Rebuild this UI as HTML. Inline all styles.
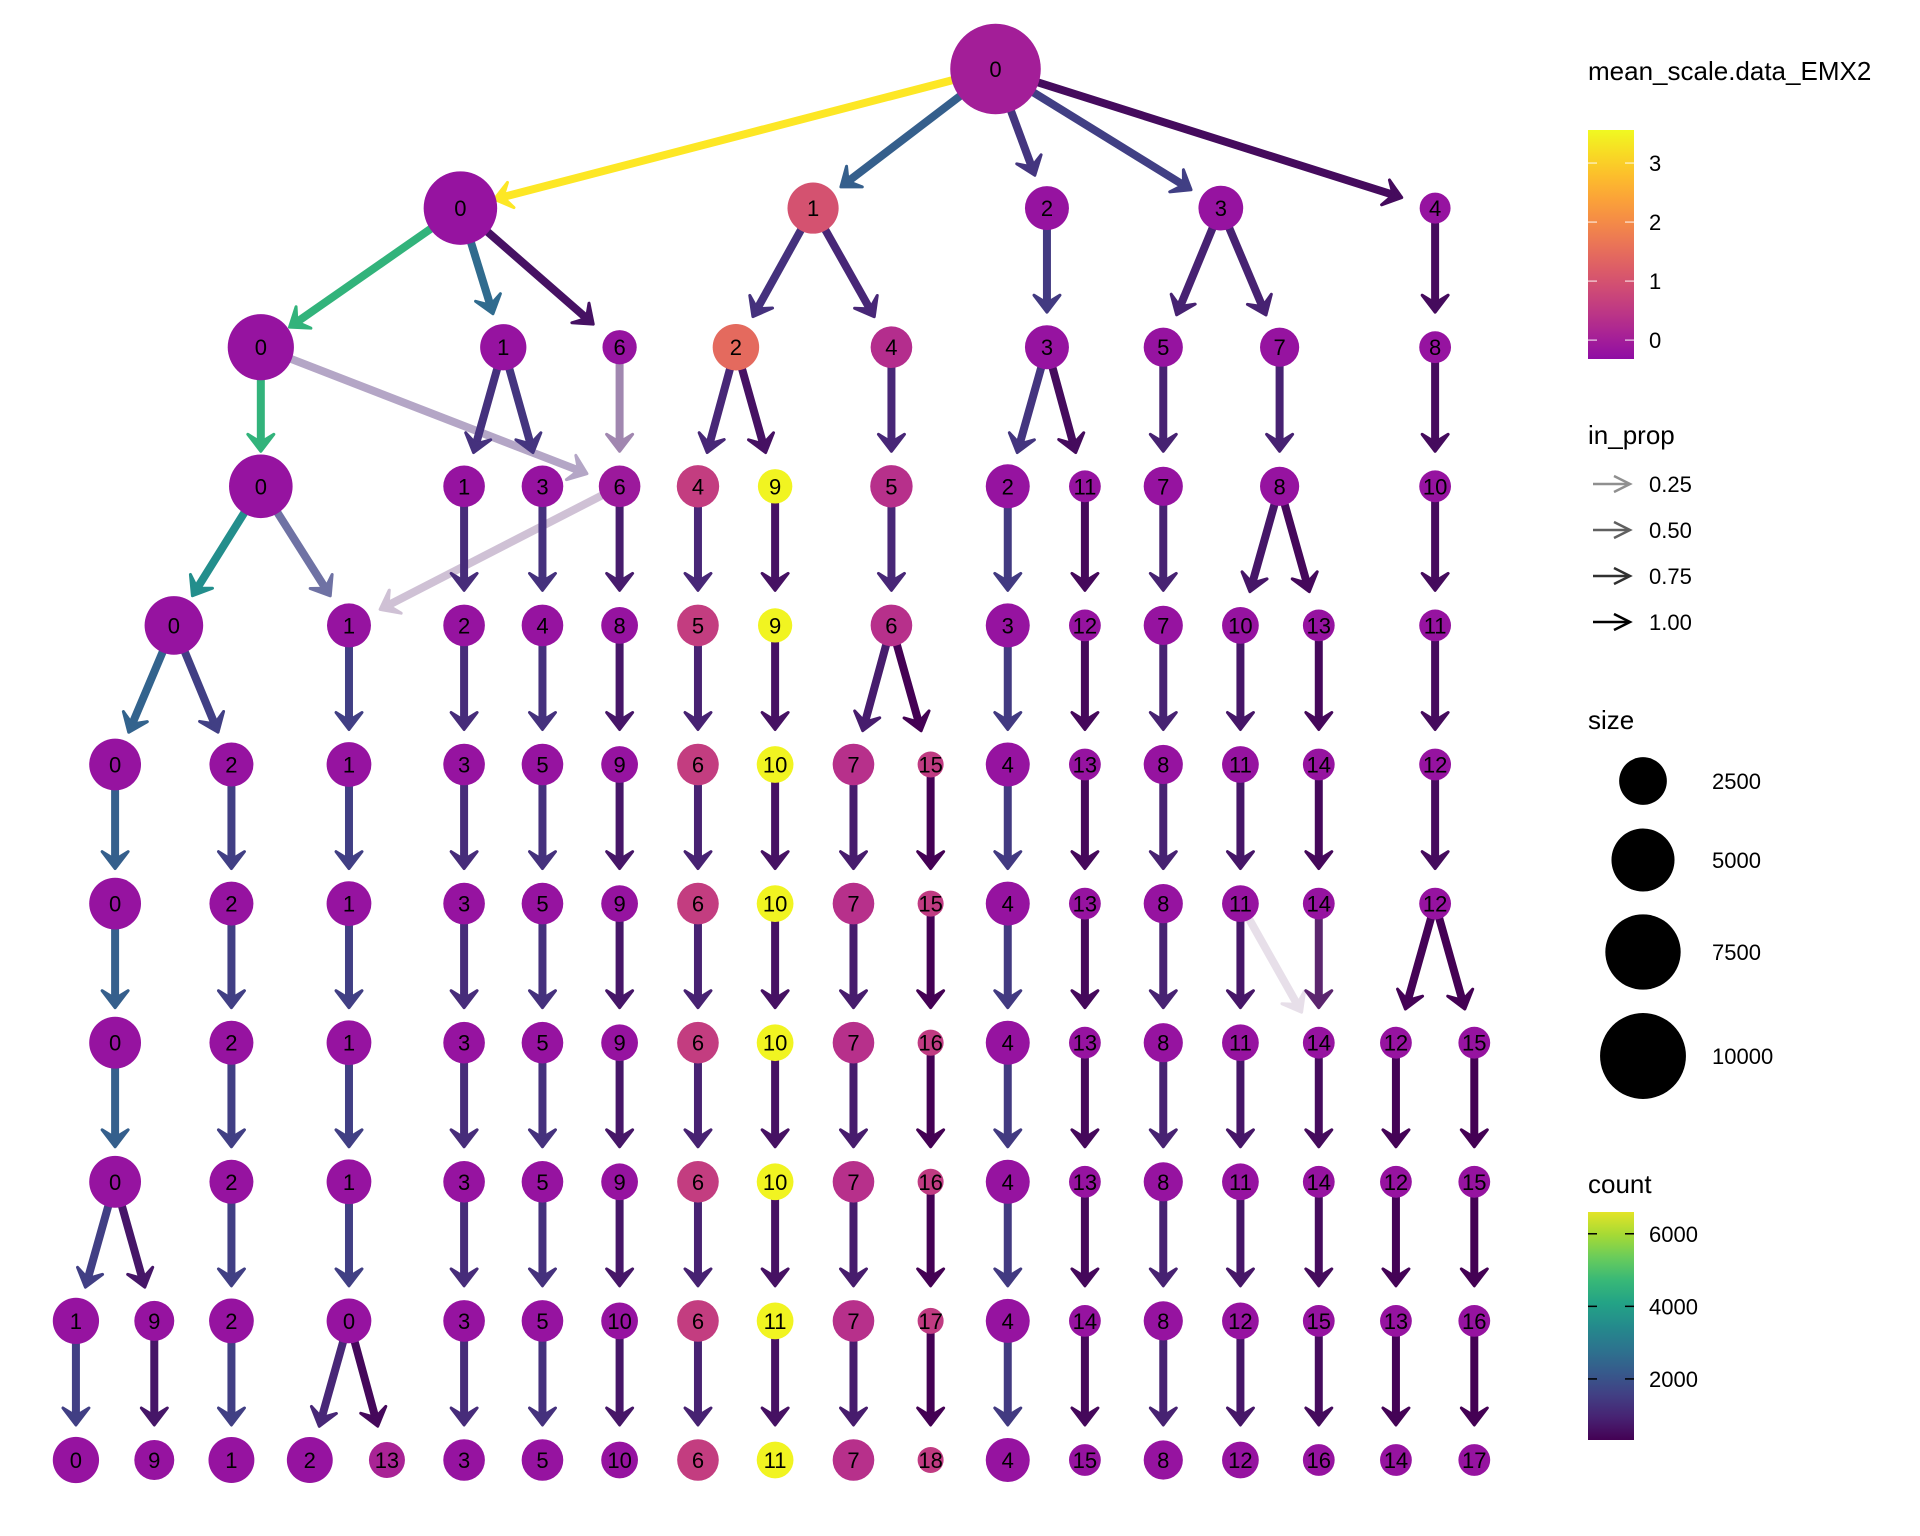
<!DOCTYPE html>
<html><head><meta charset="utf-8"><style>
html,body{margin:0;padding:0;background:#fff;}
svg{display:block;font-family:"Liberation Sans",Arial,sans-serif;}
</style></head><body>
<svg id="chart" width="1920" height="1536" viewBox="0 0 1920 1536" xmlns="http://www.w3.org/2000/svg">
<g id="edges"></g>
<g id="nodes"></g>
<g id="legend"></g>
</svg>
<script>
// ---- data (layout x in layout units, per resolution level) ----
const levelLabels = [
 [0],
 [0,1,2,3,4],
 [0,1,6,2,4,3,5,7,8],
 [0,1,3,6,4,9,5,2,11,7,8,10],
 [0,1,2,4,8,5,9,6,3,12,7,10,13,11],
 [0,2,1,3,5,9,6,10,7,15,4,13,8,11,14,12],
 [0,2,1,3,5,9,6,10,7,15,4,13,8,11,14,12],
 [0,2,1,3,5,9,6,10,7,16,4,13,8,11,14,12,15],
 [0,2,1,3,5,9,6,10,7,16,4,13,8,11,14,12,15],
 [1,9,2,0,3,5,10,6,11,7,17,4,14,8,12,15,13,16],
 [0,9,1,2,13,3,5,10,6,11,7,18,4,15,8,12,16,14,17]
];
const levelX = [
 [813],
 [376,664,855,997,1172],
 [213,411,506,601,728,855,950,1045,1172],
 [213,379,443,506,570,633,728,823,886,950,1045,1172],
 [142,285,379,443,506,570,633,728,823,886,950,1013,1077,1172],
 [94,189,285,379,443,506,570,633,697,760,823,886,950,1013,1077,1172],
 [94,189,285,379,443,506,570,633,697,760,823,886,950,1013,1077,1172],
 [94,189,285,379,443,506,570,633,697,760,823,886,950,1013,1077,1140,1204],
 [94,189,285,379,443,506,570,633,697,760,823,886,950,1013,1077,1140,1204],
 [62,126,189,285,379,443,506,570,633,697,760,823,886,950,1013,1077,1140,1204],
 [62,126,189,253,316,379,443,506,570,633,697,760,823,886,950,1013,1077,1140,1204]
];
const levelSize = [
 [11200],
 [7100,3000,2000,2100,560],
 [5600,2300,880,2330,1700,2000,1410,1410,640],
 [5100,1700,1700,1700,1800,900,1800,2000,640,1410,1410,640],
 [4200,2000,1700,1700,1140,1700,880,1700,2000,640,1410,1140,640,640],
 [3100,2000,2100,1700,1700,1140,1700,1140,1700,150,2000,640,1410,1140,640,640],
 [3100,2000,2100,1700,1700,1140,1700,1140,1700,150,2000,640,1410,1140,640,640],
 [3100,2000,2100,1700,1700,1140,1700,1140,1700,150,2000,640,1410,1140,640,640,640],
 [3100,2000,2100,1700,1700,1140,1700,1140,1700,150,2000,640,1410,1140,640,640,640],
 [2300,1500,2100,2100,1700,1700,1140,1700,1140,1700,150,2000,640,1410,1140,640,640,640],
 [2300,1500,2250,2250,1060,1700,1700,1140,1700,1140,1700,150,2000,640,1410,1140,640,640,640]
];
const levelEmx = [
 [0.0],
 [-0.2,1.0,-0.2,-0.2,-0.2],
 [-0.2,-0.2,-0.2,1.45,0.3,-0.2,-0.2,-0.2,-0.2],
 [-0.2,-0.2,-0.2,-0.1,0.6,3.5,0.35,-0.2,-0.2,-0.2,-0.2,-0.2],
 [-0.2,-0.2,-0.2,-0.2,-0.2,0.6,3.5,0.35,-0.2,-0.2,-0.2,-0.2,-0.2,-0.2],
 [-0.2,-0.2,-0.2,-0.2,-0.2,-0.2,0.6,3.5,0.35,0.55,-0.2,-0.2,-0.2,-0.2,-0.2,-0.2],
 [-0.2,-0.2,-0.2,-0.2,-0.2,-0.2,0.6,3.5,0.35,0.55,-0.2,-0.2,-0.2,-0.2,-0.2,-0.2],
 [-0.2,-0.2,-0.2,-0.2,-0.2,-0.2,0.6,3.5,0.35,0.55,-0.2,-0.2,-0.2,-0.2,-0.2,-0.2,-0.2],
 [-0.2,-0.2,-0.2,-0.2,-0.2,-0.2,0.6,3.5,0.35,0.55,-0.2,-0.2,-0.2,-0.2,-0.2,-0.2,-0.2],
 [-0.2,-0.2,-0.2,-0.2,-0.2,-0.2,-0.2,0.6,3.5,0.35,0.55,-0.2,-0.2,-0.2,-0.2,-0.2,-0.2,-0.2],
 [-0.2,-0.2,-0.2,-0.2,0.1,-0.2,-0.2,-0.2,0.6,3.5,0.35,0.55,-0.2,-0.2,-0.2,-0.2,-0.2,-0.2,-0.2]
];
// edges: "level:from>to"
const edgeLinks = [
 "0:0>0","0:0>1","0:0>2","0:0>3","0:0>4",
 "1:0>0","1:0>1","1:0>6","1:1>2","1:1>4","1:2>3","1:3>5","1:3>7","1:4>8",
 "2:0>0","2:0>6","2:1>1","2:1>3","2:6>6","2:2>4","2:2>9","2:4>5","2:3>2","2:3>11","2:5>7","2:7>8","2:8>10",
 "3:0>0","3:0>1","3:6>1","3:1>2","3:3>4","3:6>8","3:4>5","3:9>9","3:5>6","3:2>3","3:11>12","3:7>7","3:8>10","3:8>13","3:10>11",
 "4:0>0","4:0>2","4:1>1","4:2>3","4:4>5","4:8>9","4:5>6","4:9>10","4:6>7","4:6>15","4:3>4","4:12>13","4:7>8","4:10>11","4:13>14","4:11>12",
 "5:0>0","5:2>2","5:1>1","5:3>3","5:5>5","5:9>9","5:6>6","5:10>10","5:7>7","5:15>15","5:4>4","5:13>13","5:8>8","5:11>11","5:14>14","5:12>12",
 "6:0>0","6:2>2","6:1>1","6:3>3","6:5>5","6:9>9","6:6>6","6:10>10","6:7>7","6:15>16","6:4>4","6:13>13","6:8>8","6:11>11","6:11>14","6:14>14","6:12>12","6:12>15",
 "7:0>0","7:2>2","7:1>1","7:3>3","7:5>5","7:9>9","7:6>6","7:10>10","7:7>7","7:16>16","7:4>4","7:13>13","7:8>8","7:11>11","7:14>14","7:12>12","7:15>15",
 "8:0>1","8:0>9","8:2>2","8:1>0","8:3>3","8:5>5","8:9>10","8:6>6","8:10>11","8:7>7","8:16>17","8:4>4","8:13>14","8:8>8","8:11>12","8:14>15","8:12>13","8:15>16",
 "9:1>0","9:9>9","9:2>1","9:0>2","9:0>13","9:3>3","9:5>5","9:10>10","9:6>6","9:11>11","9:7>7","9:17>18","9:4>4","9:14>15","9:8>8","9:12>12","9:15>16","9:13>14","9:16>17"
];
const edgeCounts = [
 6600,2200,1300,1500,500,
 4400,2500,600,1200,1000,1400,900,900,500,
 4400,900,1200,1300,600,1000,600,1000,1300,500,900,900,500,
 3400,1600,500,1100,1200,800,1000,600,1000,1400,450,900,700,450,500,
 2300,1500,1500,1100,1200,700,900,600,800,300,1400,450,900,700,450,500,
 2200,1500,1500,1100,1200,700,900,600,800,300,1400,450,900,700,450,500,
 2200,1500,1500,1100,1200,700,900,600,800,300,1400,450,900,700,100,450,350,300,
 2200,1500,1500,1100,1200,700,900,600,800,300,1400,450,900,700,500,350,300,
 1500,700,1500,1500,1100,1200,700,900,600,800,300,1400,450,900,700,500,350,300,
 1500,700,1500,1000,450,1100,1200,700,900,600,800,300,1400,450,900,700,500,350,300
];
const edgeProps = [
 1,1,1,1,1,
 1,1,1,1,1,1,1,1,1,
 1,0.4,1,1,0.5,1,1,1,1,1,1,1,1,
 1,0.75,0.25,1,1,1,1,1,1,1,1,1,1,1,1,
 1,1,1,1,1,1,1,1,1,1,1,1,1,1,1,1,
 1,1,1,1,1,1,1,1,1,1,1,1,1,1,1,1,
 1,1,1,1,1,1,1,1,1,1,1,1,1,1,0.12,0.88,1,1,
 1,1,1,1,1,1,1,1,1,1,1,1,1,1,1,1,1,
 1,1,1,1,1,1,1,1,1,1,1,1,1,1,1,1,1,1,
 1,1,1,1,1,1,1,1,1,1,1,1,1,1,1,1,1,1,1
];
const emxTicks = [0,1,2,3];
const countTicks = [2000,4000,6000];
const sizeTicks = [2500,5000,7500,10000];
const propTicks = [0.25,0.5,0.75,1.0];

// ---- scales ----
const NS = "http://www.w3.org/2000/svg";
const xScale = u => u * 1.2245;
const yScale = lvl => 69 + lvl * 139.1;
const rScale = s => Math.sqrt(144 + 0.17 * s);
const EMX_MIN = -0.32, EMX_MAX = 3.56, CNT_MIN = 317, CNT_MAX = 6600;
function hex(c){return [parseInt(c.substr(1,2),16),parseInt(c.substr(3,2),16),parseInt(c.substr(5,2),16)];}
function interp(stops,t){t=Math.max(0,Math.min(1,t));const n=stops.length-1;const i=Math.min(n-1,Math.floor(t*n));const f=t*n-i;const a=hex(stops[i]),b=hex(stops[i+1]);return "rgb("+a.map((v,k)=>Math.round(v+(b[k]-v)*f)).join(",")+")";}
const plasma=["#0d0887","#41049d","#6a00a8","#8f0da4","#b12a90","#cc4778","#e16462","#f2844b","#fca636","#fcce25","#f0f921"];
const viridis=["#440154","#482878","#3e4989","#31688e","#26828e","#1f9e89","#35b779","#6ece58","#b5de2b","#fde725"];
const emxColor = v => interp(plasma, 0.3 + 0.7 * (v - EMX_MIN) / (EMX_MAX - EMX_MIN));
const countColor = c => interp(viridis, (c - CNT_MIN) / (CNT_MAX - CNT_MIN));
const emxY = v => 359 - (v - EMX_MIN) / (EMX_MAX - EMX_MIN) * 229;
const countY = c => 1440 - (c - CNT_MIN) / (CNT_MAX - CNT_MIN) * 228;

function mk(tag, attrs, parent){const e=document.createElementNS(NS,tag);for(const k in attrs)e.setAttribute(k,attrs[k]);parent.appendChild(e);return e;}

// node lookup
const nodePos = {};
levelLabels.forEach((labs,l)=>labs.forEach((lab,i)=>{nodePos[l+":"+lab]={x:xScale(levelX[l][i]),y:yScale(l),r:rScale(levelSize[l][i])};}));

// ---- edges ----
const gE = document.getElementById("edges");
edgeLinks.forEach((s,i)=>{
  const [lv,rest]=s.split(":");const [a,b]=rest.split(">");const l=+lv;
  const p=nodePos[l+":"+a], q=nodePos[(l+1)+":"+b];
  const dx=q.x-p.x, dy=q.y-p.y, L=Math.hypot(dx,dy), ux=dx/L, uy=dy/L;
  const tx=q.x-ux*35, ty=q.y-uy*35;
  const col=countColor(edgeCounts[i]);
  const g=mk("g",{opacity:edgeProps[i]},gE);
  
  
  mk("line",{x1:p.x,y1:p.y,x2:tx-ux*4,y2:ty-uy*4,stroke:col,"stroke-width":8},g);
  const bx=tx-ux*17, by=ty-uy*17, px=-uy, py=ux;
  mk("polygon",{points:[(bx+px*13)+","+(by+py*13),tx+","+ty,(bx-px*13)+","+(by-py*13),(tx-ux*9)+","+(ty-uy*9)].join(" "),fill:col,stroke:col,"stroke-width":3,"stroke-linejoin":"round"},g);
});

// ---- nodes ----
const gN = document.getElementById("nodes");
levelLabels.forEach((labs,l)=>labs.forEach((lab,i)=>{
  const p=nodePos[l+":"+lab];
  const g=mk("g",{},gN);
  
  
  mk("circle",{cx:p.x,cy:p.y,r:p.r,fill:emxColor(levelEmx[l][i])},g);
  const t=mk("text",{x:p.x,y:p.y+8,"text-anchor":"middle","font-size":22,fill:"#000"},g);
  t.textContent=lab;
}));

// ---- legends ----
const gL=document.getElementById("legend");
function title(txt,y,name){const t=mk("text",{x:1588,y:y,"font-size":26,fill:"#000"},gL);t.textContent=txt;}
// EMX2 colourbar
title("mean_scale.data_EMX2",80,"emx2-legend-title");
const defs=mk("defs",{},gL);
const g1=mk("linearGradient",{id:"gEmx",x1:0,y1:1,x2:0,y2:0},defs);
for(let k=0;k<=10;k++){mk("stop",{offset:k/10,"stop-color":emxColor(EMX_MIN+(EMX_MAX-EMX_MIN)*k/10)},g1);}
const bar1=mk("rect",{x:1588,y:130,width:46,height:229,fill:"url(#gEmx)"},gL);


emxTicks.forEach(v=>{const y=emxY(v);
  mk("line",{x1:1588,x2:1597,y1:y,y2:y,stroke:"#fff","stroke-opacity":0.8,"stroke-width":1.2},gL);
  mk("line",{x1:1625,x2:1634,y1:y,y2:y,stroke:"#fff","stroke-opacity":0.8,"stroke-width":1.2},gL);
  const t=mk("text",{x:1649,y:y+8,"font-size":22},gL);t.textContent=v;
  
  });
// in_prop
title("in_prop",444,"in-prop-legend-title");
propTicks.forEach((v,i)=>{const y=484+i*46;const c=Math.round(255*(1-v)*0.75);const col="rgb("+c+","+c+","+c+")";
  const g=mk("g",{},gL);
  
  
  mk("line",{x1:1593,y1:y,x2:1630,y2:y,stroke:col,"stroke-width":2.5},g);
  mk("polyline",{points:"1614,"+(y-8)+" 1630,"+y+" 1614,"+(y+8),fill:"none",stroke:col,"stroke-width":2.5},g);
  const t=mk("text",{x:1649,y:y+8,"font-size":22},g);t.textContent=v.toFixed(2);});
// size
title("size",729,"size-legend-title");
const sizeY=[781,860,952,1056];
sizeTicks.forEach((v,i)=>{const g=mk("g",{},gL);
  
  
  mk("circle",{cx:1643,cy:sizeY[i],r:rScale(v),fill:"#000"},g);
  const t=mk("text",{x:1712,y:sizeY[i]+8,"font-size":22},g);t.textContent=v;});
// count
title("count",1193,"count-legend-title");
const g2=mk("linearGradient",{id:"gCnt",x1:0,y1:1,x2:0,y2:0},defs);
for(let k=0;k<=10;k++){mk("stop",{offset:k/10,"stop-color":countColor(CNT_MIN+(CNT_MAX-CNT_MIN)*k/10*0.96)},g2);}
const bar2=mk("rect",{x:1588,y:1212,width:46,height:228,fill:"url(#gCnt)"},gL);


countTicks.forEach(v=>{const y=countY(v);
  mk("line",{x1:1588,x2:1597,y1:y,y2:y,stroke:"#000","stroke-width":1.5},gL);
  mk("line",{x1:1625,x2:1634,y1:y,y2:y,stroke:"#000","stroke-width":1.5},gL);
  const t=mk("text",{x:1649,y:y+8,"font-size":22},gL);t.textContent=v;
  
  });
</script>
</body></html>
